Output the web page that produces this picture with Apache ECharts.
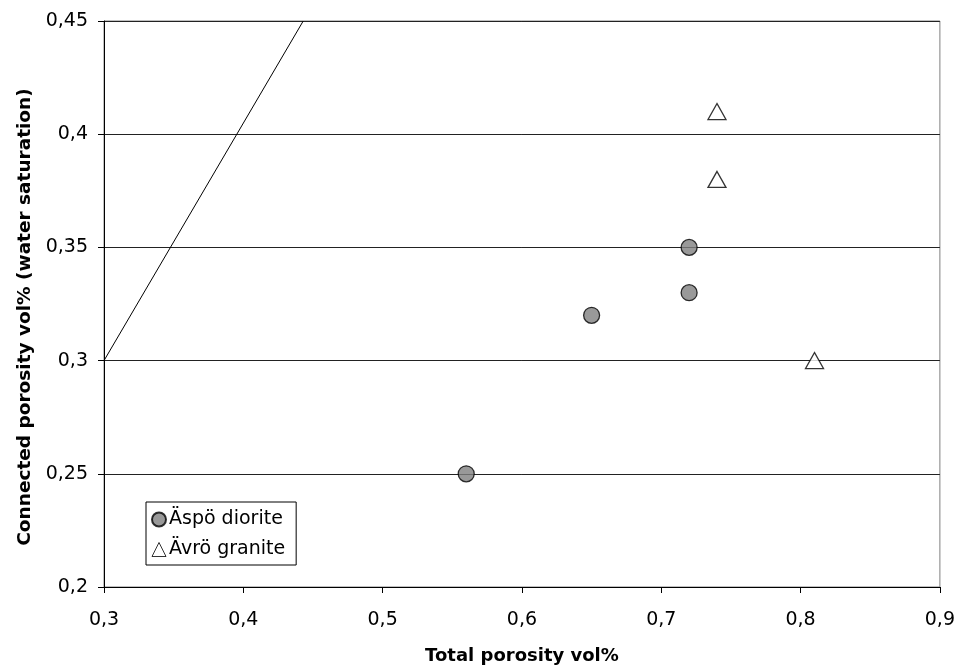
<!DOCTYPE html>
<html>
<head>
<meta charset="utf-8">
<script src="https://cdn.jsdelivr.net/npm/echarts@6/dist/echarts.min.js"></script>
<style>
  html, body { margin: 0; padding: 0; background: #fff; }
  #chart { width: 958px; height: 671px; }
</style>
</head>
<body>
<div id="chart"></div>
<script>
// Total porosity (x) vs connected porosity (y), vol%
const aspoTotal = [0.56, 0.65, 0.72, 0.72];
const aspoConnected = [0.25, 0.32, 0.33, 0.35];
const avroTotal = [0.74, 0.74, 0.81];
const avroConnected = [0.41, 0.38, 0.30];
// reference line drawn across the upper-left corner
const referenceLine = [[0.3, 0.3], [0.443, 0.45]];

const xTicks = { min: 0.3, max: 0.9, interval: 0.1 };
const yTicks = { min: 0.2, max: 0.45, interval: 0.05 };

const fontFamily = '"DejaVu Sans", "Liberation Sans", Arial, sans-serif';
const comma = v => String(parseFloat(v.toFixed(4))).replace('.', ',');

const chart = echarts.init(document.getElementById('chart'), null, { renderer: 'canvas' });
chart.setOption({
  animation: false,
  backgroundColor: '#fff',
  textStyle: { fontFamily },
  grid: {
    left: 104, right: 17, top: 21, bottom: 84,
    show: true, borderColor: '#808080', borderWidth: 1
  },
  legend: {
    orient: 'vertical',
    left: 146, top: 502,
    borderColor: '#000', borderWidth: 1, borderRadius: 0,
    padding: [8, 11, 6, 5],
    itemGap: 11,
    itemWidth: 14, itemHeight: 14,
    textStyle: { fontSize: 19, color: '#000', fontFamily, padding: [0, 0, 0, -2] },
    data: [
      { name: 'Äspö diorite', icon: 'circle' },
      { name: 'Ävrö granite', icon: 'triangle', itemStyle: { borderWidth: 1 } }
    ]
  },
  xAxis: {
    type: 'value',
    min: xTicks.min, max: xTicks.max, interval: xTicks.interval,
    name: 'Total porosity vol%',
    nameLocation: 'middle', nameGap: 60,
    nameTextStyle: { fontSize: 18, fontWeight: 'bold', color: '#000', fontFamily },
    axisLine: { lineStyle: { color: '#000', width: 1 } },
    axisTick: { show: true, inside: false, length: 6, lineStyle: { color: '#000' } },
    axisLabel: { fontSize: 19, color: '#000', margin: 24, formatter: comma },
    splitLine: { show: false }
  },
  yAxis: {
    type: 'value',
    min: yTicks.min, max: yTicks.max, interval: yTicks.interval,
    name: 'Connected porosity vol% (water saturation)',
    nameLocation: 'middle', nameGap: 67,
    nameTextStyle: { fontSize: 18.5, fontWeight: 'bold', color: '#000', fontFamily, padding: [0, 26, 0, 0] },
    axisLine: { lineStyle: { color: '#000', width: 1 } },
    axisTick: { show: true, inside: false, length: 6, lineStyle: { color: '#000' } },
    axisLabel: { fontSize: 19, color: '#000', margin: 16, formatter: comma },
    splitLine: { show: true, lineStyle: { color: '#222', width: 1 } }
  },
  series: [
    {
      name: 'reference',
      type: 'line',
      data: referenceLine,
      showSymbol: false,
      symbol: 'none',
      lineStyle: { color: '#000', width: 1 },
      silent: true,
      z: 1
    },
    {
      name: 'Äspö diorite',
      type: 'scatter',
      data: aspoTotal.map((x, i) => [x, aspoConnected[i]]),
      symbol: 'circle',
      symbolSize: 16,
      itemStyle: { color: '#808080', borderColor: '#000', borderWidth: 1.3 },
      z: 3
    },
    {
      name: 'Ävrö granite',
      type: 'scatter',
      data: avroTotal.map((x, i) => [x, avroConnected[i]]),
      symbol: 'triangle',
      symbolSize: [18, 16],
      itemStyle: { color: '#fff', borderColor: '#000', borderWidth: 1.3 },
      z: 3
    }
  ]
});
</script>
</body>
</html>
